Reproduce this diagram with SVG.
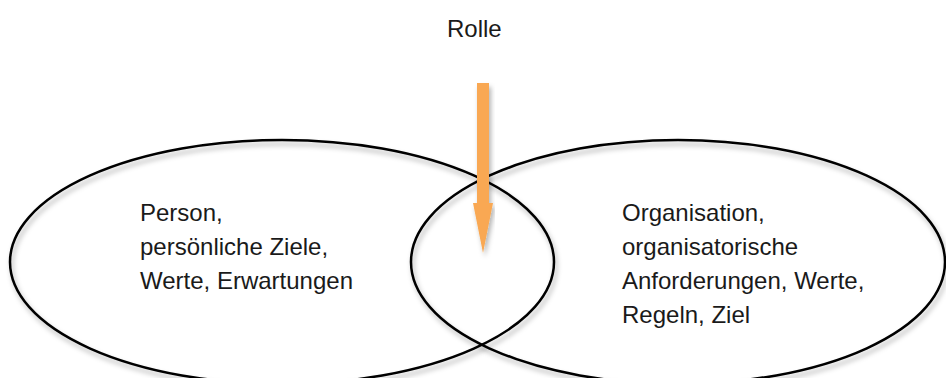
<svg xmlns="http://www.w3.org/2000/svg" width="946" height="378" viewBox="0 0 946 378">
  <defs>
    <filter id="shadow" x="-10%" y="-10%" width="120%" height="130%">
      <feDropShadow dx="2" dy="4" stdDeviation="2.5" flood-color="#000" flood-opacity="0.3"/>
    </filter>
  </defs>
  <style>
    .set { fill: none; stroke: #000; stroke-width: 2.5; }
    .lbl { font-family: "Liberation Sans", Arial, sans-serif; font-size: 24px; fill: #1a1a1a; }
    .arrow { fill: #F9A852; }
  </style>
  <rect width="946" height="378" fill="#fff"/>

  <g id="person">
    <ellipse class="set" cx="282" cy="262" rx="272" ry="122" filter="url(#shadow)"/>
    <text class="lbl" x="140" y="221">Person,</text>
    <text class="lbl" x="140" y="255">persönliche Ziele,</text>
    <text class="lbl" x="140" y="289">Werte, Erwartungen</text>
  </g>

  <g id="organisation">
    <ellipse class="set" cx="678" cy="262" rx="267" ry="122" filter="url(#shadow)"/>
    <text class="lbl" x="622" y="221">Organisation,</text>
    <text class="lbl" x="622" y="255">organisatorische</text>
    <text class="lbl" x="622" y="289">Anforderungen, Werte,</text>
    <text class="lbl" x="622" y="323">Regeln, Ziel</text>
  </g>

  <g id="rolle">
    <text class="lbl" x="447" y="37">Rolle</text>
  </g>

  <g id="connectors">
    <polygon class="arrow" filter="url(#shadow)" points="477,83 489,83 489,203 493,203 483,253 473,203 477,203"/>
  </g>
</svg>
